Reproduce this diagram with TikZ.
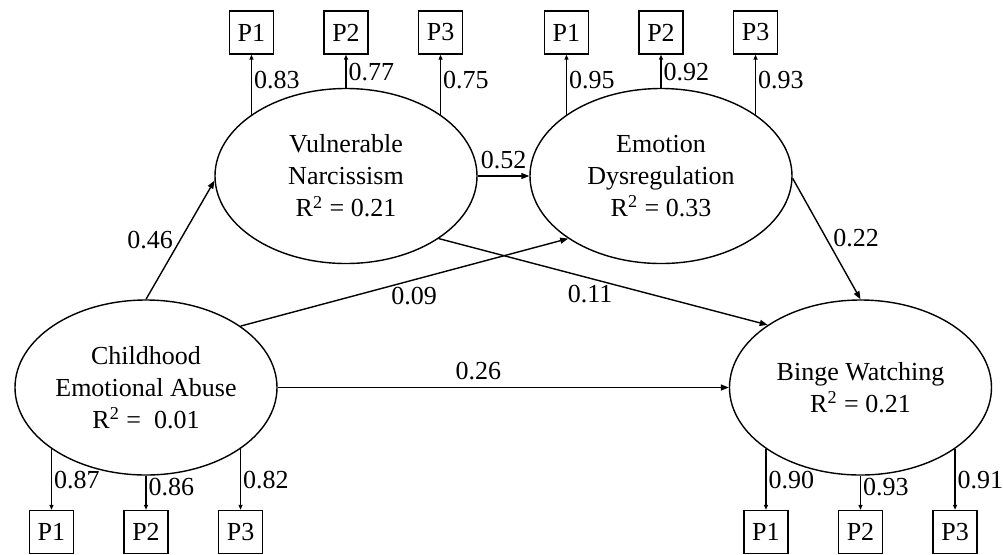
\documentclass[tikz,border=0pt]{standalone}
\usepackage{fontspec}
\setmainfont{Liberation Serif}
\usetikzlibrary{shapes.geometric,arrows.meta}

\tikzset{
  latent/.style={ellipse, draw, line width=0.7pt, minimum width=131pt, minimum height=87.5pt, inner sep=0pt, align=center},
  ind/.style={rectangle, draw, line width=0.7pt, minimum width=22pt, minimum height=21.5pt, inner sep=0pt},
  load/.style={line width=0.7pt, -{Triangle[length=2.5pt,width=2pt]}},
  regr/.style={line width=0.7pt, -{Triangle[length=4pt,width=3pt]}},
  coef/.style={inner sep=1pt, anchor=west}
}

\begin{document}
\begin{tikzpicture}[x=0.5pt, y=-0.5pt, font=\fontsize{13}{16}\selectfont]
    \useasboundingbox (0,0) rectangle (1003,554);
    % latent variables
    \node[latent] (vn) at (346,176) {Vulnerable\\Narcissism\\R\textsuperscript{2} = 0.21};
    \node[latent] (ed) at (661,176) {Emotion\\Dysregulation\\R\textsuperscript{2} = 0.33};
    \node[latent] (cea) at (146,387.5) {Childhood\\Emotional Abuse\\R\textsuperscript{2} =\ \ 0.01};
    \node[latent] (bw) at (860.5,387.5) {Binge Watching\\R\textsuperscript{2} = 0.21};
    \coordinate (top) at (0,32.5);
    \coordinate (bot) at (0,532);
    % indicators above
    \foreach \lv/\a/\n/\v/\p in {vn/147/1/0.83/0.57, vn/90/2/0.77/0.48, vn/33/3/0.75/0.57,
                                 ed/147/1/0.95/0.57, ed/90/2/0.92/0.48, ed/33/3/0.93/0.57}
    {
        \node[ind] (\lv\n) at (\lv.\a |- top) {P\n};
        \draw[load] (\lv.\a) -- (\lv\n) node[coef, pos=\p] {\v};
    }
    % indicators below
    \foreach \lv/\a/\n/\v/\p in {cea/213/1/0.87/0.51, cea/270/2/0.86/0.34, cea/327/3/0.82/0.51,
                                 bw/213/1/0.90/0.51, bw/270/2/0.93/0.34, bw/327/3/0.91/0.51}
    {
        \node[ind] (\lv\n) at (\lv.\a |- bot) {P\n};
        \draw[load] (\lv.\a) -- (\lv\n) node[coef, pos=\p] {\v};
    }
    % structural paths
    \draw[regr] (cea.north) -- (vn.182) node[midway, left] {0.46};
    \draw[regr] (vn.east) -- (ed.west) node[midway, above] {0.52};
    \draw[regr] (cea.33) -- (ed.214) node[pos=0.53, below] {0.09};
    \draw[regr] (vn.-34) -- (bw.146) node[pos=0.46, below] {0.11};
    \draw[regr] (ed.-1) -- (bw.north) node[pos=0.49, right] {0.22};
    \draw[regr] (cea.east) -- (bw.west) node[pos=0.445, above] {0.26};
\end{tikzpicture}
\end{document}
